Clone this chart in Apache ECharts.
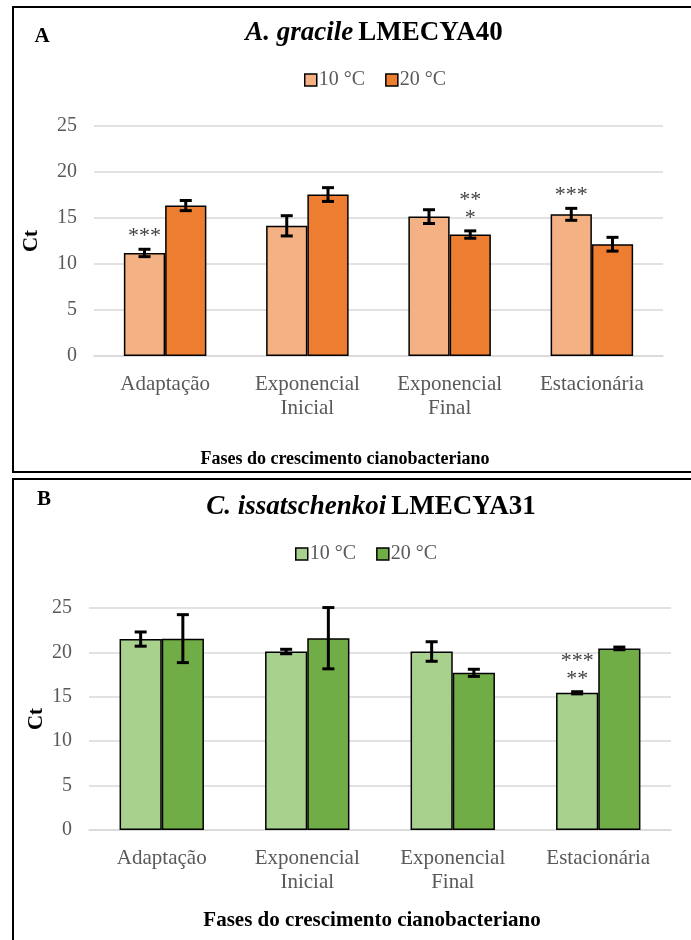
<!DOCTYPE html>
<html>
<head>
<meta charset="utf-8">
<script src="https://cdn.jsdelivr.net/npm/echarts@6/dist/echarts.min.js"></script>
<style>
  html, body { margin: 0; padding: 0; background: #ffffff; }
  #chart { width: 691px; height: 940px; }
</style>
</head>
<body>
<div id="chart"></div>
<script>
// Growth phases (x categories)
const phases = ['Adaptação', 'Exponencial\nInicial', 'Exponencial\nFinal', 'Estacionária'];
const yTicks = [0, 5, 10, 15, 20, 25];

// Panel A — A. gracile LMECYA40: mean Ct and error (±)
const gracile10 = [11.2, 14.15, 15.15, 15.4];
const gracile10Err = [0.4, 1.1, 0.75, 0.65];
const gracile20 = [16.35, 17.55, 13.2, 12.15];
const gracile20Err = [0.55, 0.75, 0.4, 0.75];
const gracile10Sig = ['***', '', '', '***'];
const gracile20Sig = ['', '', '**\n*', ''];

// Panel B — C. issatschenkoi LMECYA31: mean Ct and error (±)
const issat10 = [21.5, 20.1, 20.1, 15.45];
const issat10Err = [0.8, 0.25, 1.1, 0.12];
const issat20 = [21.55, 21.6, 17.7, 20.45];
const issat20Err = [2.7, 3.45, 0.4, 0.15];
const issat10Sig = ['', '', '', '***\n**'];
const issat20Sig = ['', '', '', ''];

const SERIF = '"Liberation Serif", "Times New Roman", serif';
const GRAY = '#595959';
const GRID_LINE = '#d9d9d9';
const CAT_GAP = 0.42;

const chart = echarts.init(document.getElementById('chart'), null, { renderer: 'canvas' });

// Error bar + significance marks drawn next to the bar of one series.
// side = -1 for the first (left) bar of a pair, +1 for the second.
function errorSeries(name, axisIdx, means, errs, marks, side) {
  const data = means.map((m, i) => [i, m, errs[i], marks[i]]);
  return {
    type: 'custom',
    name: name,
    xAxisIndex: axisIdx,
    yAxisIndex: axisIdx,
    z: 5,
    silent: true,
    data: data,
    renderItem: function (params, api) {
      const i = api.value(0);
      const mean = api.value(1);
      const err = api.value(2);
      const mark = data[params.dataIndex][3];
      const band = api.size([1, 0])[0];
      const barW = band * (1 - CAT_GAP) / 2;
      const c = api.coord([i, mean]);
      const x = c[0] + side * barW / 2;
      const top = api.coord([i, mean + err])[1];
      const bot = api.coord([i, mean - err])[1];
      const cap = 6;
      const style = { stroke: '#000', lineWidth: 3 };
      const children = [
        { type: 'line', shape: { x1: x, y1: top, x2: x, y2: bot }, style: style },
        { type: 'line', shape: { x1: x - cap, y1: top, x2: x + cap, y2: top }, style: style },
        { type: 'line', shape: { x1: x - cap, y1: bot, x2: x + cap, y2: bot }, style: style }
      ];
      if (mark) {
        children.push({
          type: 'text',
          style: {
            text: mark,
            x: x,
            y: top - 4,
            align: 'center',
            verticalAlign: 'bottom',
            font: '22px ' + SERIF,
            lineHeight: 18,
            fill: '#404040'
          }
        });
      }
      return { type: 'group', children: children };
    }
  };
}

function barSeries(name, axisIdx, values, color) {
  return {
    type: 'bar',
    name: name,
    xAxisIndex: axisIdx,
    yAxisIndex: axisIdx,
    data: values,
    barGap: '0%',
    barCategoryGap: (CAT_GAP * 100) + '%',
    itemStyle: { color: color, borderColor: '#000', borderWidth: 1.5 },
    emphasis: { disabled: true }
  };
}

function xAxisFor(gridIdx) {
  return {
    type: 'category',
    gridIndex: gridIdx,
    data: phases,
    axisLine: { show: true, lineStyle: { color: GRID_LINE, width: 1.5 } },
    axisTick: { show: false },
    axisLabel: {
      color: GRAY, fontFamily: SERIF, fontSize: 21, lineHeight: 24, margin: 16, interval: 0
    }
  };
}

function yAxisFor(gridIdx, nameGap, labelMargin) {
  return {
    type: 'value',
    gridIndex: gridIdx,
    min: yTicks[0],
    max: yTicks[yTicks.length - 1],
    interval: yTicks[1] - yTicks[0],
    name: 'Ct',
    nameLocation: 'middle',
    nameRotate: 90,
    nameGap: nameGap,
    nameMoveOverlap: false,
    nameTextStyle: { color: '#000', fontFamily: SERIF, fontSize: 21, fontWeight: 'bold' },
    axisLine: { show: false },
    axisTick: { show: false },
    axisLabel: { color: GRAY, fontFamily: SERIF, fontSize: 20, margin: labelMargin },
    splitLine: { lineStyle: { color: GRID_LINE, width: 1.5 } }
  };
}

const legendLabels = { 'A10': '10 °C', 'A20': '20 °C', 'B10': '10 °C', 'B20': '20 °C' };
function legendFor(names, top, left) {
  return {
    data: names,
    top: top,
    left: left,
    itemWidth: 12,
    itemHeight: 12,
    itemGap: 20,
    icon: 'rect',
    selectedMode: false,
    formatter: n => legendLabels[n],
    itemStyle: { borderColor: '#000', borderWidth: 1.5 },
    textStyle: { color: GRAY, fontFamily: SERIF, fontSize: 20, padding: [0, 0, 0, -3] }
  };
}

function panelText(x, y, rich, text) {
  return {
    type: 'text',
    x: x, y: y,
    style: { text: text, rich: rich, align: 'center', verticalAlign: 'middle', fill: '#000' }
  };
}

const titleRich = size => ({
  it: { fontFamily: SERIF, fontSize: size, fontStyle: 'italic', fontWeight: 'bold', fill: '#000' },
  bd: { fontFamily: SERIF, fontSize: size, fontWeight: 'bold', fill: '#000', padding: [0, 0, 0, 5] }
});

const option = {
  animation: false,
  backgroundColor: '#ffffff',
  grid: [
    { left: 94, right: 28, top: 126, height: 230 },
    { left: 89, right: 20, top: 608, height: 222 }
  ],
  xAxis: [xAxisFor(0), xAxisFor(1)],
  yAxis: [yAxisFor(0, 52, 17), yAxisFor(1, 42, 17)],
  legend: [
    legendFor(['A10', 'A20'], 65, 299),
    legendFor(['B10', 'B20'], 539, 290)
  ],
  series: [
    barSeries('A10', 0, gracile10, '#F4B183'),
    barSeries('A20', 0, gracile20, '#ED7D31'),
    barSeries('B10', 1, issat10, '#A9D18E'),
    barSeries('B20', 1, issat20, '#70AD47'),
    errorSeries('A10-err', 0, gracile10, gracile10Err, gracile10Sig, -1),
    errorSeries('A20-err', 0, gracile20, gracile20Err, gracile20Sig, 1),
    errorSeries('B10-err', 1, issat10, issat10Err, issat10Sig, -1),
    errorSeries('B20-err', 1, issat20, issat20Err, issat20Sig, 1)
  ],
  graphic: [
    // panel frames
    { type: 'rect', shape: { x: 13, y: 7, width: 690, height: 465 },
      style: { fill: 'none', stroke: '#000', lineWidth: 2 }, silent: true },
    { type: 'rect', shape: { x: 13, y: 479, width: 690, height: 470 },
      style: { fill: 'none', stroke: '#000', lineWidth: 2 }, silent: true },
    // panel letters
    panelText(42, 37, { l: { fontFamily: SERIF, fontSize: 21, fontWeight: 'bold', fill: '#000' } }, '{l|A}'),
    panelText(44, 500, { l: { fontFamily: SERIF, fontSize: 21, fontWeight: 'bold', fill: '#000' } }, '{l|B}'),
    // titles
    panelText(374, 33, titleRich(27), '{it|A. gracile}{bd|LMECYA40}'),
    panelText(371, 507, titleRich(27), '{it|C. issatschenkoi}{bd|LMECYA31}'),
    // x axis names
    panelText(345, 459, { n: { fontFamily: SERIF, fontSize: 18, fontWeight: 'bold', fill: '#000' } },
      '{n|Fases do crescimento cianobacteriano}'),
    panelText(372, 921, { n: { fontFamily: SERIF, fontSize: 21, fontWeight: 'bold', fill: '#000' } },
      '{n|Fases do crescimento cianobacteriano}')
  ]
};

chart.setOption(option);
</script>
</body>
</html>
